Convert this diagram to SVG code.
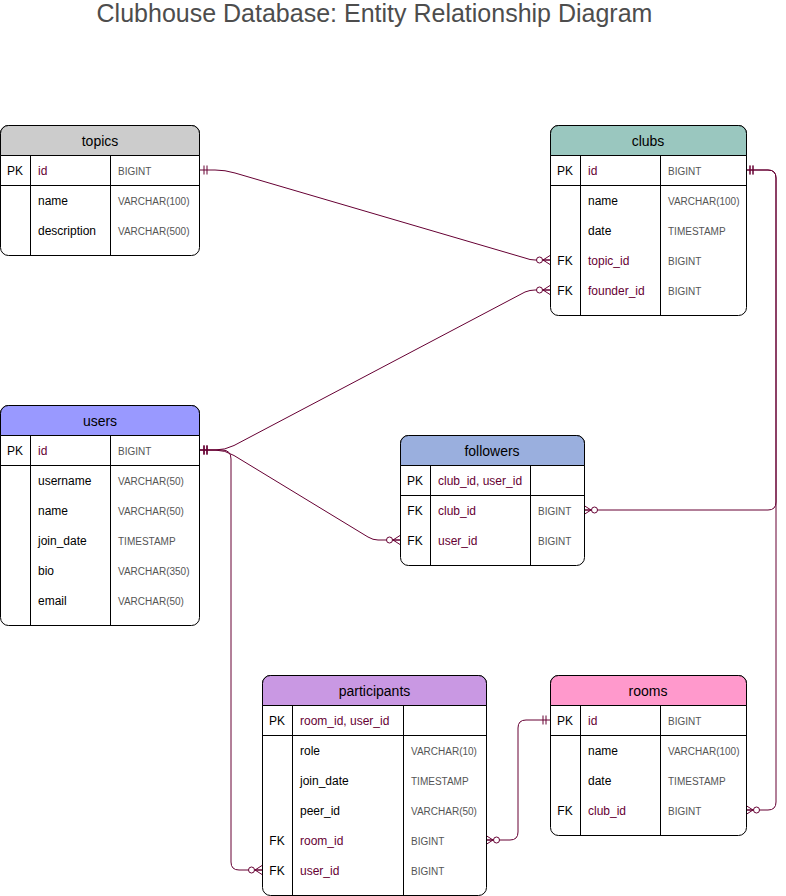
<svg xmlns="http://www.w3.org/2000/svg" width="786" height="896" viewBox="0 0 786 896">
<style>
text{font-family:"Liberation Sans",Arial,Helvetica,sans-serif;}
.title{font-size:25px;fill:#4d4d4d;text-anchor:middle;}
.hdr{font-size:14px;fill:#000;text-anchor:middle;}
.key{font-size:12px;fill:#000;text-anchor:middle;}
.nm{font-size:12px;fill:#000;}
.fk{font-size:12px;fill:#660033;}
.ty{font-size:10px;fill:#555;}
.box{fill:#fff;stroke:#000;stroke-width:1;}
.ln{stroke:#000;stroke-width:1;fill:none;}
.edge{fill:none;stroke:#660033;stroke-width:1;marker-start:url(#one);marker-end:url(#many);}
</style>
<defs>
<marker id="one" markerUnits="userSpaceOnUse" viewBox="-15 -10 20 20" refX="0" refY="0" markerWidth="20" markerHeight="20" orient="auto-start-reverse" overflow="visible">
<path d="M-4,-4.5 V4.5 M-7,-4.5 V4.5" stroke="#660033" stroke-width="1" fill="none"/>
</marker>
<marker id="many" markerUnits="userSpaceOnUse" viewBox="-15 -10 20 20" refX="0" refY="0" markerWidth="20" markerHeight="20" orient="auto" overflow="visible">
<path d="M0,-4.5 L-7,0 L0,4.5 M-7,0 L0,0" stroke="#660033" stroke-width="1" fill="none"/>
<circle cx="-10.5" cy="0" r="3" fill="#fff" stroke="#660033" stroke-width="1"/>
</marker>
</defs>

<text class="title" x="374.5" y="22">Clubhouse Database: Entity Relationship Diagram</text>

<g id="connectors">
<path class="edge" d="M200,170 L215,170 Q225,170 235,173 L525,258 Q530,260 535,260 L550,260"/>
<path class="edge" d="M200,450 L215,450 Q225,450 234,445.5 L525,292 Q530,290 535,290 L550,290"/>
<path class="edge" d="M200,450 L215,450 Q225,450 234,455.5 L368,537 Q373,540 378,540 L400,540"/>
<path class="edge" d="M200,450 L222,450 Q231,450 231,459 L231,862 Q231,870 239,870 L262,870"/>
<path class="edge" d="M746,170 L768,170 Q776,170 776,178 L776,502 Q776,510 768,510 L584,510"/>
<path class="edge" d="M746,170 L768,170 Q776,170 776,178 L776,802 Q776,810 768,810 L746,810"/>
<path class="edge" d="M550,720 L526,720 Q518,720 518,728 L518,832 Q518,840 510,840 L486,840"/>
</g>

<g id="topics">
<rect class="box" x="0.5" y="125.5" width="199" height="130" rx="8"/>
<path d="M0.5,155.5 V133.5 A8,8 0 0 1 8.5,125.5 H191.5 A8,8 0 0 1 199.5,133.5 V155.5 Z" fill="#cccccc" stroke="#000"/>
<path class="ln" d="M0.5,185.5 H199.5 M30.5,155.5 V255.5 M110.5,155.5 V255.5"/>
<text class="hdr" x="100" y="146">topics</text>
<text class="key" x="15" y="175">PK</text>
<text class="fk" x="38" y="175">id</text><text class="ty" x="118" y="174.5">BIGINT</text>
<text class="nm" x="38" y="205">name</text><text class="ty" x="118" y="204.5">VARCHAR(100)</text>
<text class="nm" x="38" y="235">description</text><text class="ty" x="118" y="234.5">VARCHAR(500)</text>
</g>

<g id="clubs">
<rect class="box" x="550.5" y="125.5" width="196" height="190" rx="8"/>
<path d="M550.5,155.5 V133.5 A8,8 0 0 1 558.5,125.5 H738.5 A8,8 0 0 1 746.5,133.5 V155.5 Z" fill="#9ac7bf" stroke="#000"/>
<path class="ln" d="M550.5,185.5 H746.5 M580.5,155.5 V315.5 M660.5,155.5 V315.5"/>
<text class="hdr" x="648" y="146">clubs</text>
<text class="key" x="565" y="175">PK</text>
<text class="fk" x="588" y="175">id</text><text class="ty" x="668" y="174.5">BIGINT</text>
<text class="nm" x="588" y="205">name</text><text class="ty" x="668" y="204.5">VARCHAR(100)</text>
<text class="nm" x="588" y="235">date</text><text class="ty" x="668" y="234.5">TIMESTAMP</text>
<text class="key" x="565" y="265">FK</text>
<text class="fk" x="588" y="265">topic_id</text><text class="ty" x="668" y="264.5">BIGINT</text>
<text class="key" x="565" y="295">FK</text>
<text class="fk" x="588" y="295">founder_id</text><text class="ty" x="668" y="294.5">BIGINT</text>
</g>

<g id="users">
<rect class="box" x="0.5" y="405.5" width="199" height="220" rx="8"/>
<path d="M0.5,435.5 V413.5 A8,8 0 0 1 8.5,405.5 H191.5 A8,8 0 0 1 199.5,413.5 V435.5 Z" fill="#9999ff" stroke="#000"/>
<path class="ln" d="M0.5,465.5 H199.5 M30.5,435.5 V625.5 M110.5,435.5 V625.5"/>
<text class="hdr" x="100" y="426">users</text>
<text class="key" x="15" y="455">PK</text>
<text class="fk" x="38" y="455">id</text><text class="ty" x="118" y="454.5">BIGINT</text>
<text class="nm" x="38" y="485">username</text><text class="ty" x="118" y="484.5">VARCHAR(50)</text>
<text class="nm" x="38" y="515">name</text><text class="ty" x="118" y="514.5">VARCHAR(50)</text>
<text class="nm" x="38" y="545">join_date</text><text class="ty" x="118" y="544.5">TIMESTAMP</text>
<text class="nm" x="38" y="575">bio</text><text class="ty" x="118" y="574.5">VARCHAR(350)</text>
<text class="nm" x="38" y="605">email</text><text class="ty" x="118" y="604.5">VARCHAR(50)</text>
</g>

<g id="followers">
<rect class="box" x="400.5" y="435.5" width="184" height="130" rx="8"/>
<path d="M400.5,465.5 V443.5 A8,8 0 0 1 408.5,435.5 H576.5 A8,8 0 0 1 584.5,443.5 V465.5 Z" fill="#9aafde" stroke="#000"/>
<path class="ln" d="M400.5,495.5 H584.5 M430.5,465.5 V565.5 M530.5,465.5 V565.5"/>
<text class="hdr" x="492" y="456">followers</text>
<text class="key" x="415" y="485">PK</text>
<text class="fk" x="438" y="485">club_id, user_id</text>
<text class="key" x="415" y="515">FK</text>
<text class="fk" x="438" y="515">club_id</text><text class="ty" x="538" y="514.5">BIGINT</text>
<text class="key" x="415" y="545">FK</text>
<text class="fk" x="438" y="545">user_id</text><text class="ty" x="538" y="544.5">BIGINT</text>
</g>

<g id="participants">
<rect class="box" x="262.5" y="675.5" width="224" height="220" rx="8"/>
<path d="M262.5,705.5 V683.5 A8,8 0 0 1 270.5,675.5 H478.5 A8,8 0 0 1 486.5,683.5 V705.5 Z" fill="#c998e3" stroke="#000"/>
<path class="ln" d="M262.5,735.5 H486.5 M292.5,705.5 V895.5 M403.5,705.5 V895.5"/>
<text class="hdr" x="374.5" y="696">participants</text>
<text class="key" x="277" y="725">PK</text>
<text class="fk" x="300" y="725">room_id, user_id</text>
<text class="nm" x="300" y="755">role</text><text class="ty" x="411" y="754.5">VARCHAR(10)</text>
<text class="nm" x="300" y="785">join_date</text><text class="ty" x="411" y="784.5">TIMESTAMP</text>
<text class="nm" x="300" y="815">peer_id</text><text class="ty" x="411" y="814.5">VARCHAR(50)</text>
<text class="key" x="277" y="845">FK</text>
<text class="fk" x="300" y="845">room_id</text><text class="ty" x="411" y="844.5">BIGINT</text>
<text class="key" x="277" y="875">FK</text>
<text class="fk" x="300" y="875">user_id</text><text class="ty" x="411" y="874.5">BIGINT</text>
</g>

<g id="rooms">
<rect class="box" x="550.5" y="675.5" width="196" height="160" rx="8"/>
<path d="M550.5,705.5 V683.5 A8,8 0 0 1 558.5,675.5 H738.5 A8,8 0 0 1 746.5,683.5 V705.5 Z" fill="#ff99cc" stroke="#000"/>
<path class="ln" d="M550.5,735.5 H746.5 M580.5,705.5 V835.5 M660.5,705.5 V835.5"/>
<text class="hdr" x="648" y="696">rooms</text>
<text class="key" x="565" y="725">PK</text>
<text class="fk" x="588" y="725">id</text><text class="ty" x="668" y="724.5">BIGINT</text>
<text class="nm" x="588" y="755">name</text><text class="ty" x="668" y="754.5">VARCHAR(100)</text>
<text class="nm" x="588" y="785">date</text><text class="ty" x="668" y="784.5">TIMESTAMP</text>
<text class="key" x="565" y="815">FK</text>
<text class="fk" x="588" y="815">club_id</text><text class="ty" x="668" y="814.5">BIGINT</text>
</g>
</svg>
